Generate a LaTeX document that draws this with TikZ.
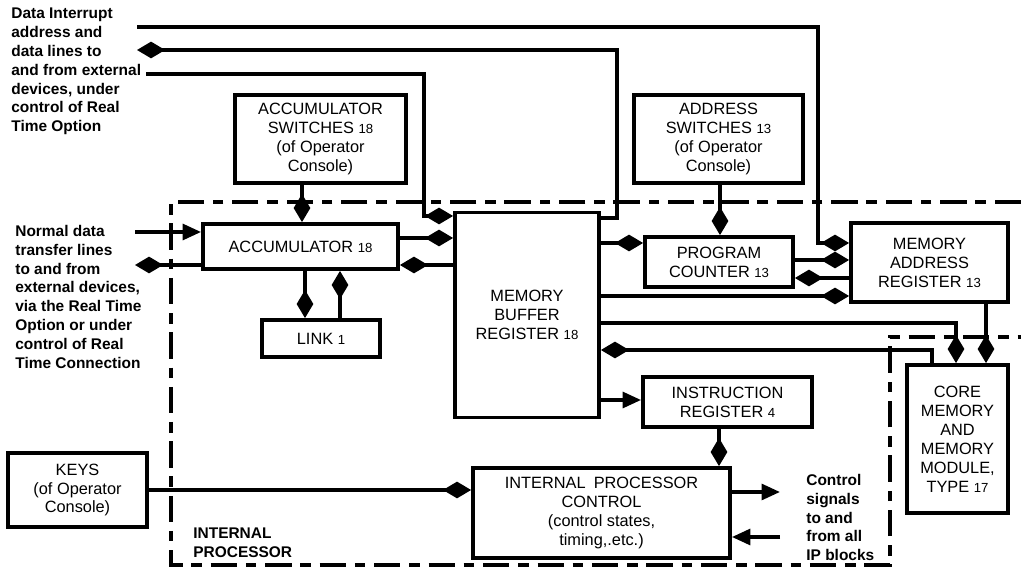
\documentclass[tikz,border=0pt]{standalone}
\usepackage{fontspec}
\setmainfont{Liberation Sans}
\usetikzlibrary{arrows.meta}

\newcommand{\nr}[1]{{\fontsize{7.5}{8}\selectfont #1}}

\begin{document}
\begin{tikzpicture}[
  x=0.02cm, y=-0.02cm,
  box/.style={draw, line width=2.2pt, align=center, inner sep=0pt, font=\fontsize{9.3}{10.8}\selectfont},
  note/.style={align=left, inner sep=0pt, anchor=north west, font=\fontsize{8.8}{10.7}\selectfont\bfseries},
  line/.style={line width=2pt},
  dia/.style={line, -{Diamond[length=16pt, width=9.5pt]}},
  arr/.style={line, -{Triangle[length=10.5pt, width=9pt]}},
  frame/.style={line width=2.6pt, dash pattern=on 15pt off 5pt on 6pt off 5pt}
]
\useasboundingbox (0,0) rectangle (1021,573);

% internal processor boundary
\draw[frame] (1021,202) -- (171,202) -- (171,565) -- (890,565) -- (890,337) -- (1021,337);

% blocks
\node[box, minimum width=3.42cm, minimum height=1.76cm] (accsw) at (320.5,139) {ACCUMULATOR\\SWITCHES \nr{18}\\(of Operator\\Console)};
\node[box, minimum width=3.38cm, minimum height=1.76cm] (adrsw) at (718.5,139) {ADDRESS\\SWITCHES \nr{13}\\(of Operator\\Console)};
\node[box, minimum width=3.9cm, minimum height=0.9cm] (acc) at (300.5,246.5) {ACCUMULATOR \nr{18}};
\node[box, minimum width=2.36cm, minimum height=0.74cm] (lnk) at (321,338.5) {LINK \nr{1}};
\node[box, minimum width=2.88cm, minimum height=4.1cm] (mbr) at (527,315) {MEMORY\\BUFFER\\REGISTER \nr{18}};
\node[box, minimum width=2.96cm, minimum height=1.0cm] (pc) at (719,262) {PROGRAM\\COUNTER \nr{13}};
\node[box, minimum width=3.14cm, minimum height=1.58cm] (mar) at (929.5,262.5) {MEMORY\\ADDRESS\\REGISTER \nr{13}};
\node[box, minimum width=3.38cm, minimum height=1.0cm] (ir) at (727.5,402) {INSTRUCTION\\REGISTER \nr{4}};
\node[box, minimum width=5.14cm, minimum height=1.8cm] (ipc) at (601.5,513) {INTERNAL\enspace PROCESSOR\\CONTROL\\(control states,\\timing,.etc.)};
\node[box, minimum width=2.78cm, minimum height=1.48cm] (keys) at (77.5,490) {KEYS\\(of Operator\\Console)};
\node[box, minimum width=2.02cm, minimum height=2.96cm] (core) at (957.5,439) {CORE\\MEMORY\\AND\\MEMORY\\MODULE,\\TYPE \nr{17}};

% notes
\node[note] (ndata) at (11,8) {Data Interrupt\\address and\\data lines to\\and from external\\devices, under\\control of Real\\Time Option};
\node[note] (nnorm) at (15,225) {Normal data\\transfer lines\\to and from\\external devices,\\via the Real Time\\Option or under\\control of Real\\Time Connection};
\node[note] (nctl) at (806,474) {Control\\signals\\to and\\from all\\IP blocks};
\node[note] (nip) at (193,528) {INTERNAL\\PROCESSOR};

% free ends
\coordinate (din)   at (137,27);
\coordinate (dbus)  at (137,50);
\coordinate (dout)  at (146,74);
\coordinate (nin)   at (135,232);
\coordinate (nout)  at (135,265);
\coordinate (csout) at (780,492);
\coordinate (csin)  at (780,537);

% data paths
\draw[dia] (din) -| (818,243) -- (mar.west |- 0,243);
\draw[dia] (mbr.east |- 0,218) -| (617,50) -- (dbus);
\draw[dia] (dout) -| (424,216) -- (mbr.west |- 0,216);
\draw[dia] (accsw.south -| 302,0) -- (acc.north -| 302,0);
\draw[arr] (nin) -- (acc.west |- nin);
\draw[dia] (acc.west |- nout) -- (nout);
\draw[dia] (acc.east |- 0,238) -- (mbr.west |- 0,238);
\draw[dia] (mbr.west |- 0,265) -- (acc.east |- 0,265);
\draw[dia] (acc.south -| 305,0) -- (lnk.north -| 305,0);
\draw[dia] (lnk.north -| 340,0) -- (acc.south -| 340,0);
\draw[dia] (mbr.east |- 0,243) -- (pc.west |- 0,243);
\draw[dia] (adrsw.south -| 720,0) -- (pc.north -| 720,0);
\draw[dia] (pc.east |- 0,260) -- (mar.west |- 0,260);
\draw[dia] (mar.west |- 0,278) -- (pc.east |- 0,278);
\draw[dia] (mbr.east |- 0,296) -- (mar.west |- 0,296);
\draw[dia] (mbr.east |- 0,323) -| (core.north -| 956,0);
\draw[dia] (mar.south -| 986,0) -- (core.north -| 986,0);
\draw[dia] (core.north -| 932,0) |- (mbr.east |- 0,350);
\draw[arr] (mbr.east |- 0,400) -- (ir.west |- 0,400);
\draw[dia] (ir.south -| 719,0) -- (ipc.north -| 719,0);
\draw[dia] (keys.east |- 0,490) -- (ipc.west |- 0,490);
\draw[arr] (ipc.east |- csout) -- (csout);
\draw[arr] (csin) -- (ipc.east |- csin);
\end{tikzpicture}
\end{document}
